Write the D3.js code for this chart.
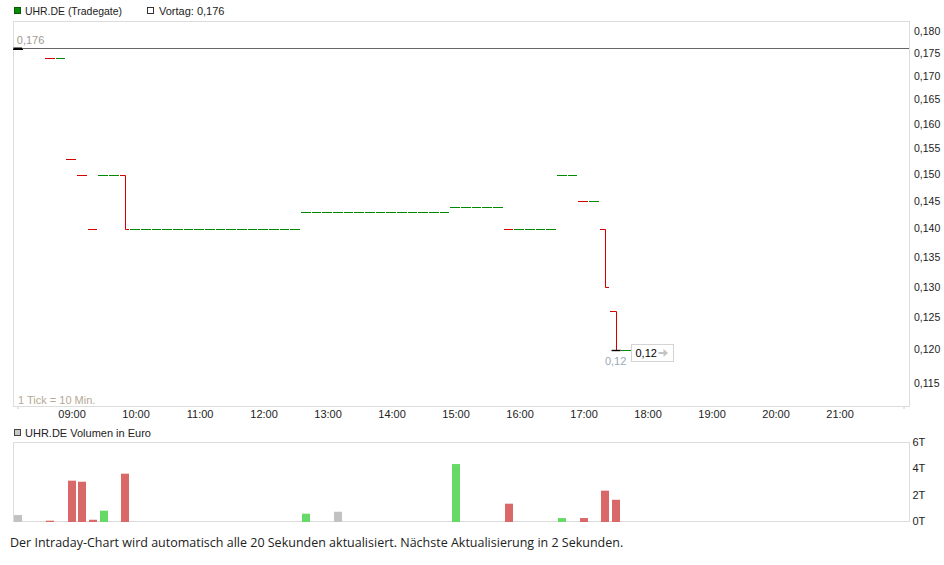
<!DOCTYPE html>
<html><head><meta charset="utf-8">
<script src="https://cdn.jsdelivr.net/npm/d3@7"></script>
<style>body{margin:0;background:#fff}svg{display:block}</style>
</head><body><svg id="c" width="944" height="565"></svg>
<script>
// ---- data ----
const tickTimes = ["08:10","08:40","08:50","09:00","09:10","09:20","09:30","09:40","09:50",
  "10:00","10:10","10:20","10:30","10:40","10:50","11:00","11:10","11:20","11:30","11:40","11:50","12:00","12:10","12:20","12:30",
  "12:40","12:50","13:00","13:10","13:20","13:30","13:40","13:50","14:00","14:10","14:20","14:30","14:40","14:50",
  "15:00","15:10","15:20","15:30","15:40","15:50","16:00","16:10","16:20","16:30","16:40","16:50","17:00","17:10","17:20","17:30","17:40"];
const openPrices = [0.176,0.174,0.174,0.153,0.150,0.140,0.150,0.150,0.150,
  0.140,0.140,0.140,0.140,0.140,0.140,0.140,0.140,0.140,0.140,0.140,0.140,0.140,0.140,0.140,0.140,
  0.143,0.143,0.143,0.143,0.143,0.143,0.143,0.143,0.143,0.143,0.143,0.143,0.143,0.143,
  0.144,0.144,0.144,0.144,0.144,0.140,0.140,0.140,0.140,0.140,0.150,0.150,0.145,0.145,0.140,0.126,0.120];
const closePrices = [0.176,0.174,0.174,0.153,0.150,0.140,0.150,0.150,0.140,
  0.140,0.140,0.140,0.140,0.140,0.140,0.140,0.140,0.140,0.140,0.140,0.140,0.140,0.140,0.140,0.140,
  0.143,0.143,0.143,0.143,0.143,0.143,0.143,0.143,0.143,0.143,0.143,0.143,0.143,0.143,
  0.144,0.144,0.144,0.144,0.144,0.140,0.140,0.140,0.140,0.140,0.150,0.150,0.145,0.145,0.130,0.120,0.120];
const volumes = [530,100,0,3140,3060,170,860,0,3670,
  0,0,0,0,0,0,0,0,0,0,0,0,0,0,0,0,
  630,0,0,780,0,0,0,0,0,0,0,0,0,0,
  4400,0,0,0,0,1390,0,0,0,0,300,0,300,0,2380,1690,0];
const previousClose = 0.176;
const priceTicks = [0.115,0.120,0.125,0.130,0.135,0.140,0.145,0.150,0.155,0.160,0.165,0.170,0.175,0.180];
const volumeTicks = [0,2000,4000,6000];
const hourLabels = ["09:00","10:00","11:00","12:00","13:00","14:00","15:00","16:00","17:00","18:00","19:00","20:00","21:00"];
const timeDomain = ["08:06","22:06"];
const priceDomain = [0.1117,0.1824];
const volumeDomain = [0,6000];
const titleText = "UHR.DE (Tradegate)";
const vortagText = "Vortag: ";
const volumeTitle = "UHR.DE Volumen in Euro";
const tickNote = "1 Tick = 10 Min.";
const footerText = "Der Intraday-Chart wird automatisch alle 20 Sekunden aktualisiert. Nächste Aktualisierung in 2 Sekunden.";

// ---- setup ----
const de = d3.formatLocale({decimal:",",thousands:".",grouping:[3],currency:["","€"]});
const fmt3 = de.format(".3f");
const fmtShort = v => de.format(",")(+v.toFixed(3));
const parse = d3.timeParse("%H:%M");
const svg = d3.select("#c");
const FONT = "'Liberation Sans', Arial, sans-serif";
const L = 14, R = 910, PT = 21, PB = 406, VT = 443, VB = 522;

const x = d3.scaleTime().domain(timeDomain.map(parse)).range([L, R]);
const y = d3.scaleLog().domain(priceDomain).range([PB, PT]);
const yv = d3.scaleLinear().domain(volumeDomain).range([VB, VT]);
const half = x(parse("08:05")) - x(parse("08:00"));
const crisp = v => Math.round(v) + 0.5;

const data = tickTimes.map((t,i)=>({t:parse(t),o:openPrices[i],c:closePrices[i],v:volumes[i]}));
data.forEach((d,i)=>{ d.prev = i===0 ? previousClose : data[i-1].c; });

// legend
const lg = svg.append("g").attr("font-family",FONT).attr("font-size",11).attr("fill","#222");
lg.append("rect").attr("x",14.5).attr("y",7.5).attr("width",6).attr("height",6).attr("fill","#0a8a0a").attr("stroke","#055a05");
lg.append("text").attr("x",25).attr("y",11).attr("dy","0.35em").attr("textLength",97).attr("lengthAdjust","spacingAndGlyphs").text(titleText);
lg.append("rect").attr("x",147.5).attr("y",7.5).attr("width",6).attr("height",6).attr("fill","#fff").attr("stroke","#333");
lg.append("text").attr("x",159).attr("y",11).attr("dy","0.35em").text(vortagText + fmt3(previousClose));

// price frame
svg.append("rect").attr("x",L-0.5).attr("y",PT+0.5).attr("width",R-L).attr("height",PB-PT)
  .attr("fill","none").attr("stroke","#dcdcdc");

// right price axis labels
svg.append("g").selectAll("text").data(priceTicks).join("text")
  .attr("x",R+4).attr("y",d=>y(d)).attr("dy","0.35em")
  .attr("font-family",FONT).attr("font-size",10.5).attr("fill","#222").text(d=>fmt3(d));

// time labels
svg.append("g").selectAll("text").data(hourLabels).join("text")
  .attr("x",d=>x(parse(d))+0.5).attr("y",414).attr("dy","0.35em").attr("text-anchor","middle")
  .attr("font-family",FONT).attr("font-size",11).attr("fill","#222").text(d=>d);
// faint axis ticks at ends
[data[0].t, parse("22:00")].forEach(t=>{
  svg.append("line").attr("x1",crisp(x(t))-0.5).attr("x2",crisp(x(t))-0.5).attr("y1",407).attr("y2",409)
   .attr("stroke","#ccc");
});

// previous close line
svg.append("line").attr("x1",L).attr("x2",R-1).attr("y1",crisp(y(previousClose))-1).attr("y2",crisp(y(previousClose))-1)
  .attr("stroke","#666").attr("stroke-width",1);

// price segments
const seg = svg.append("g").attr("fill","none").attr("stroke-width",1);
data.forEach((d,i)=>{
  const cx = x(d.t);
  const col = i===0 ? "#000" : (d.c < d.prev ? "#d40000" : "#008a00");
  const x0 = Math.round(cx-half), x1 = Math.round(cx+half-1), xm = Math.round(cx)+0.5;
  let p;
  if (d.o === d.c) p = `M${x0},${crisp(y(d.c))}H${x1}`;
  else p = `M${x0},${crisp(y(d.o))}H${xm}V${crisp(y(d.c))}H${x1}`;
  seg.append("path").attr("d",p).attr("stroke",col);
});
// first / last trade markers
const traded = data.filter(d=>d.v>0);
const first = data[0], last = traded[traded.length-1];
svg.append("line").attr("x1",x(first.t)-half+0.5).attr("x2",x(first.t)+half-1.5)
  .attr("y1",crisp(y(first.o))-1).attr("y2",crisp(y(first.o))-1).attr("stroke","#000").attr("stroke-width",2);
svg.append("line").attr("x1",x(last.t)-4).attr("x2",x(last.t)+5)
  .attr("y1",crisp(y(last.c))).attr("y2",crisp(y(last.c))).attr("stroke","#000").attr("stroke-width",1.4);
svg.append("text").attr("x",x(first.t)-1.5).attr("y",y(first.o)-9).attr("dy","0.35em")
  .attr("font-family",FONT).attr("font-size",11).attr("fill","#a09a94").text(fmt3(first.o));
svg.append("text").attr("x",x(last.t)).attr("y",y(last.c)+11).attr("dy","0.35em").attr("text-anchor","middle")
  .attr("font-family",FONT).attr("font-size",11).attr("fill","#9aa8b8").text(fmtShort(last.c));

// last price box
const bx = Math.round(x(data[data.length-1].t)+half-1)+0.5, by = crisp(y(last.c))-6;
svg.append("rect").attr("x",bx).attr("y",by).attr("width",42).attr("height",17)
  .attr("fill","#fff").attr("stroke","#d4d4d4");
svg.append("text").attr("x",bx+4).attr("y",by+8.5).attr("dy","0.35em")
  .attr("font-family",FONT).attr("font-size",11).attr("fill","#000").text(fmtShort(last.c));
svg.append("path").attr("d",`M${bx+27},${by+7.5}h5v-3l4.5,4l-4.5,4v-3h-5z`).attr("fill","#c4c4c4");

// tick note
svg.append("text").attr("x",18).attr("y",400).attr("dy","0.35em")
  .attr("font-family",FONT).attr("font-size",11).attr("fill","#b6a794").text(tickNote);

// volume legend
svg.append("rect").attr("x",14.5).attr("y",429.5).attr("width",6).attr("height",6).attr("fill","#c8c8c8").attr("stroke","#444");
svg.append("text").attr("x",25).attr("y",433).attr("dy","0.35em")
  .attr("font-family",FONT).attr("font-size",11).attr("fill","#222").text(volumeTitle);

// volume frame
svg.append("rect").attr("x",L-0.5).attr("y",VT-0.5).attr("width",R-L).attr("height",VB-VT)
  .attr("fill","none").attr("stroke","#dcdcdc");

// volume bars
svg.append("g").selectAll("rect").data(data.filter(d=>d.v>0)).join("rect")
  .attr("x",d=>Math.round(x(d.t))-4).attr("width",8)
  .attr("y",d=>yv(d.v)).attr("height",d=>yv(0)-yv(d.v))
  .attr("fill",d=> d.c > d.prev ? "#66d966" : (d.c < d.prev ? "#d96868" : "#c2c2c2"));

// volume axis labels
svg.append("g").selectAll("text").data(volumeTicks).join("text")
  .attr("x",R+2.5).attr("y",d=>yv(d)-1).attr("dy","0.35em")
  .attr("font-family",FONT).attr("font-size",11).attr("fill","#222").text(d=>(d/1000)+"T");

// footer
const ft = svg.append("text").attr("x",10).attr("y",543).attr("dy","0.35em")
  .attr("font-family","'Open Sans', sans-serif").attr("font-size",13).attr("fill","#222").text(footerText);
const w = ft.node().getComputedTextLength();
ft.attr("font-size", 13*614/w);
</script></body></html>
